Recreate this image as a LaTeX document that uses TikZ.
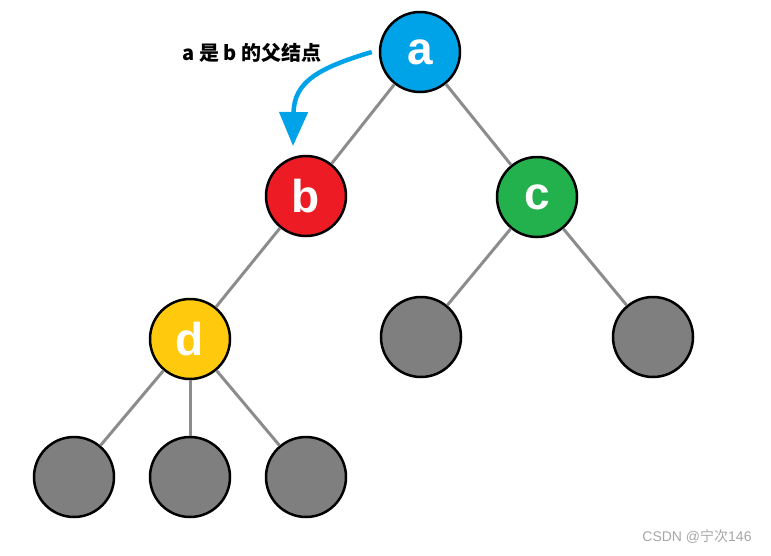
\documentclass[tikz,border=0pt]{standalone}
\usepackage{fontspec}
\setmainfont{Liberation Sans}
\newfontfamily\cjk{Noto Sans CJK SC}
\usetikzlibrary{arrows.meta}
\definecolor{nodeblue}{HTML}{00A2E8}
\definecolor{nodered}{HTML}{ED1C24}
\definecolor{nodegreen}{HTML}{22B14C}
\definecolor{nodeyellow}{HTML}{FFC90E}
\definecolor{leafgray}{HTML}{7F7F7F}
\definecolor{edgegray}{HTML}{8C8C8C}

\begin{document}
\begin{tikzpicture}[x=1pt,y=-1pt,>=Latex,
  treenode/.style={circle,draw=black,line width=2.5pt,minimum size=80pt,inner sep=0pt,
    text=white,font=\fontsize{46}{46}\selectfont\bfseries},
  leaf/.style={treenode,fill=leafgray},
  edge/.style={draw=edgegray,line width=3pt}]
\useasboundingbox (0,0) rectangle (771,555);

\node[treenode,fill=nodeblue] (a) at (420,52) {a};
\node[treenode,fill=nodered] (b) at (306,196) {b};
\node[treenode,fill=nodegreen] (c) at (537,197) {c};
\node[treenode,fill=nodeyellow] (d) at (190,339) {d};

\node[leaf] (c1) at (421,337) {};
\node[leaf] (c2) at (653,337) {};
\node[leaf] (d1) at (74,477) {};
\node[leaf] (d2) at (190,477) {};
\node[leaf] (d3) at (306,477) {};

\draw[edge] (a) -- (b);
\draw[edge] (a) -- (c);
\draw[edge] (b) -- (d);
\draw[edge] (c) -- (c1);
\draw[edge] (c) -- (c2);
\draw[edge] (d) -- (d1);
\draw[edge] (d) -- (d2);
\draw[edge] (d) -- (d3);

% note on the parent link
\node (note) at (252,53) {\fontsize{20}{20}\selectfont\cjk\bfseries a 是 b 的父结点};
\coordinate (tip) at (293,146);
\draw[nodeblue,line width=4.5pt,-{Triangle[width=28pt,length=34pt]}]
  ([xshift=-7pt]a.west) .. controls (318,68) and (294,82) .. (tip);

\node[text=gray!70] (mark) at (697,537) {\fontsize{14}{14}\selectfont CSDN @\cjk 宁次\rmfamily 146};
\end{tikzpicture}
\end{document}
